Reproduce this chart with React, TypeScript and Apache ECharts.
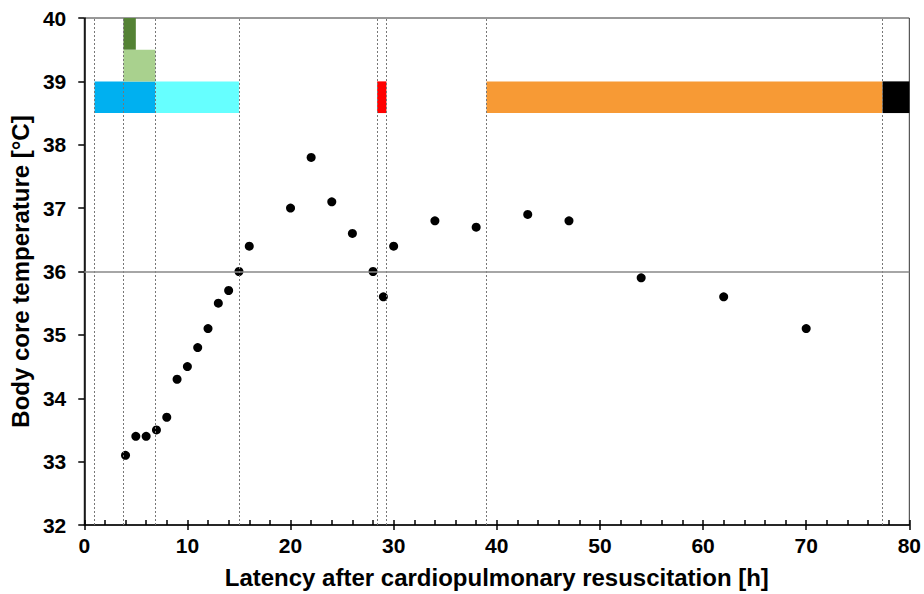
import React, { useEffect, useRef } from "react";
import * as echarts from "echarts";

// Scatter data: latency [h] and body core temperature [°C]
const latencyHours = [4, 5, 6, 7, 8, 9, 10, 11, 12, 13, 14, 15, 16, 20, 22, 24, 26, 28, 29, 30, 34, 38, 43, 47, 54, 62, 70];
const temperatures = [33.1, 33.4, 33.4, 33.5, 33.7, 34.3, 34.5, 34.8, 35.1, 35.5, 35.7, 36.0, 36.4, 37.0, 37.8, 37.1, 36.6, 36.0, 35.6, 36.4, 36.8, 36.7, 36.9, 36.8, 35.9, 35.6, 35.1];

// Treatment bands: start/end [h], lower/upper [°C]
const bandStart = [1, 6.9, 3.8, 3.8, 28.4, 39, 77.4];
const bandEnd = [6.9, 15, 6.9, 5.0, 29.3, 77.4, 80];
const bandLow = [38.5, 38.5, 39, 39.5, 38.5, 38.5, 38.5];
const bandHigh = [39, 39, 39.5, 40, 39, 39, 39];
const bandColors = ["#00B0F0", "#66FFFF", "#A9D18E", "#548235", "#FF0000", "#F79A35", "#000000"];

// Event markers (dotted verticals) [h]
const eventHours = [1, 3.8, 6.9, 15, 28.4, 29.3, 39, 77.4];
const referenceTemp = 36;

const xTicks = { min: 0, max: 80, interval: 10 };
const yTicks = { min: 32, max: 40, interval: 1 };

export default function App() {
  const ref = useRef<HTMLDivElement>(null);
  useEffect(() => {
    if (!ref.current) return;
    const chart = echarts.init(ref.current, undefined, { renderer: "svg" });
    const font = "'Liberation Sans', Arial, sans-serif";
    const labelStyle = { fontFamily: font, fontWeight: "bold" as const, fontSize: 21, color: "#000" };
    const bands = bandStart.map((s, i) => [s, bandEnd[i], bandLow[i], bandHigh[i]]);
    chart.setOption({
      animation: false,
      backgroundColor: "#fff",
      grid: {
        left: 83.5, right: 13, top: 18, bottom: 68,
        show: true, borderColor: "#333", borderWidth: 1, backgroundColor: "transparent",
      },
      xAxis: [
        {
          type: "value", min: xTicks.min, max: xTicks.max, interval: xTicks.interval,
          splitLine: { show: false },
          axisLine: { show: true, lineStyle: { color: "#000", width: 1.5 } },
          axisTick: { show: true, inside: true, length: 5, lineStyle: { color: "#000", width: 1.5 } },
          minorTick: { show: true, splitNumber: 5, length: 5, lineStyle: { color: "#000", width: 1.5 } },
          axisLabel: { ...labelStyle, margin: 10 },
          name: "Latency after cardiopulmonary resuscitation [h]",
          nameLocation: "middle", nameGap: 40,
          nameTextStyle: { fontFamily: font, fontWeight: "bold", fontSize: 24, color: "#000" },
        },
        {
          type: "value", min: xTicks.min, max: xTicks.max, interval: xTicks.interval,
          position: "bottom", splitLine: { show: false },
          axisLine: { show: false },
          axisTick: { show: true, inside: false, length: 5, lineStyle: { color: "#000", width: 1.5 } },
          axisLabel: { show: false },
        },
      ],
      yAxis: {
        type: "value", min: yTicks.min, max: yTicks.max, interval: yTicks.interval,
        splitLine: { show: false },
        axisLine: { show: true, lineStyle: { color: "#000", width: 1.5 } },
        axisTick: { show: true, inside: false, length: 6, lineStyle: { color: "#000", width: 1.5 } },
        axisLabel: { ...labelStyle, margin: 18 },
        name: "Body core temperature [°C]",
        nameLocation: "middle", nameGap: 50,
        nameTextStyle: { fontFamily: font, fontWeight: "bold", fontSize: 24, color: "#000" },
      },
      series: [
        {
          type: "custom",
          z: 2,
          data: bands,
          encode: { x: [0, 1], y: [2, 3] },
          renderItem: (params: any, api: any) => {
            const p0 = api.coord([api.value(0), api.value(3)]);
            const p1 = api.coord([api.value(1), api.value(2)]);
            return {
              type: "rect",
              shape: { x: p0[0], y: p0[1], width: p1[0] - p0[0], height: p1[1] - p0[1] },
              style: { fill: bandColors[params.dataIndex], stroke: null },
            };
          },
        },
        {
          type: "scatter",
          z: 4,
          symbol: "circle",
          symbolSize: 9,
          itemStyle: { color: "#000", opacity: 1 },
          data: latencyHours.map((h, i) => [h, temperatures[i]]),
          markLine: {
            silent: true,
            symbol: "none",
            label: { show: false },
            data: [
              ...eventHours.map((h) => ({ xAxis: h, lineStyle: { type: [2, 2], color: "#777", width: 1 } })),
              { yAxis: referenceTemp, lineStyle: { type: "solid", color: "#888", width: 1.5 } },
            ],
          },
        },
      ],
    });
    return () => chart.dispose();
  }, []);
  return <div ref={ref} style={{ width: 924, height: 594, position: "absolute", left: 0, top: 0 }} />;
}
